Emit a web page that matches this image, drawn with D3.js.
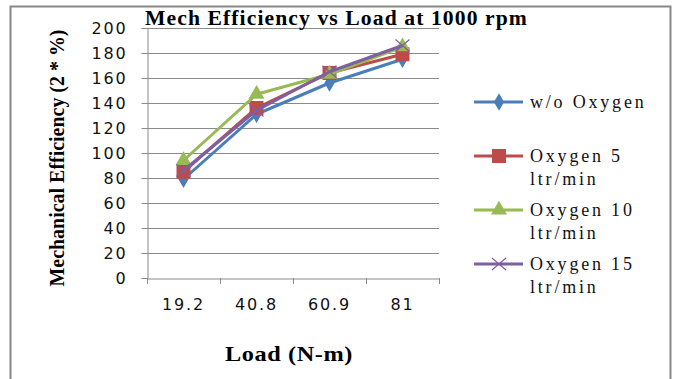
<!DOCTYPE html>
<html>
<head>
<meta charset="utf-8">
<script src="https://cdn.jsdelivr.net/npm/d3@7"></script>
<style>
  body { margin: 0; background: #fff; }
  svg { display: block; }
</style>
</head>
<body>
<svg id="chart" width="673" height="379"></svg>
<script>
// chart data
const loads = ['19.2', '40.8', '60.9', '81'];
const yTicks = [0, 20, 40, 60, 80, 100, 120, 140, 160, 180, 200];
const woOxygen = [79, 131, 156, 175];
const oxygen5 = [85, 136, 164, 179];
const oxygen10 = [94, 147, 163, 185];
const oxygen15 = [86, 134, 165, 186];
const seriesNames = ['w/o Oxygen', 'Oxygen 5 ltr/min', 'Oxygen 10 ltr/min', 'Oxygen 15 ltr/min'];

const series = [
  { name: seriesNames[0], values: woOxygen, color: '#4a7ebb', marker: 'diamond' },
  { name: seriesNames[1], values: oxygen5, color: '#be4b48', marker: 'square' },
  { name: seriesNames[2], values: oxygen10, color: '#98b954', marker: 'triangle' },
  { name: seriesNames[3], values: oxygen15, color: '#7d60a0', marker: 'cross' }
];

const svg = d3.select('#chart');
const plot = { left: 147, right: 439, top: 28, bottom: 278 };
const serif = 'Liberation Serif, Times New Roman, serif';
const sans = 'DejaVu Sans, Verdana, sans-serif';

// outer frame
svg.append('rect')
  .attr('x', 10.5).attr('y', 6.5)
  .attr('width', 660).attr('height', 380)
  .attr('fill', 'none').attr('stroke', '#888').attr('stroke-width', 2);

const x = d3.scaleBand().domain(loads).range([plot.left, plot.right]);
const y = d3.scaleLinear().domain([0, 200]).range([plot.bottom, plot.top]);

// gridlines
svg.append('g').selectAll('line')
  .data(yTicks.filter(d => d > 0))
  .enter().append('line')
  .attr('x1', plot.left).attr('x2', plot.right)
  .attr('y1', d => Math.round(y(d)) + 0.5).attr('y2', d => Math.round(y(d)) + 0.5)
  .attr('stroke', '#8a8a8a').attr('stroke-width', 1);

// y axis
const yAxis = svg.append('g')
  .attr('transform', `translate(${plot.left + 0.5},0)`)
  .call(d3.axisLeft(y).tickValues(yTicks).tickSize(6).tickPadding(14));
yAxis.select('.domain').attr('stroke', '#8a8a8a');
yAxis.selectAll('.tick line').attr('stroke', '#8a8a8a');
yAxis.selectAll('.tick text')
  .attr('font-family', sans)
  .attr('font-size', 16).attr('letter-spacing', 1.8).attr('fill', '#111');

// x axis
const xAxis = svg.append('g')
  .attr('transform', `translate(0,${plot.bottom + 0.5})`)
  .call(d3.axisBottom(x).tickSize(0).tickPadding(20));
xAxis.select('.domain').attr('stroke', '#8a8a8a');
xAxis.selectAll('.tick text')
  .attr('font-family', sans)
  .attr('font-size', 16).attr('letter-spacing', 1.8).attr('fill', '#111');
// category boundary tick marks
const bounds = loads.map(d => x(d)).concat([x(loads[loads.length - 1]) + x.bandwidth()]);
svg.append('g').selectAll('line')
  .data(bounds)
  .enter().append('line')
  .attr('x1', d => Math.round(d) + 0.5).attr('x2', d => Math.round(d) + 0.5)
  .attr('y1', plot.bottom).attr('y2', plot.bottom + 6)
  .attr('stroke', '#8a8a8a');

const cx = d => x(d) + x.bandwidth() / 2;

// lines and markers
const line = d3.line().x((d, i) => cx(loads[i])).y(d => y(d));

function drawMarker(g, type, color, px, py) {
  if (type === 'diamond') {
    g.append('path').attr('d', d3.symbol(d3.symbolDiamond, 90)())
      .attr('transform', `translate(${px},${py})`).attr('fill', color);
  } else if (type === 'square') {
    g.append('rect').attr('x', px - 7).attr('y', py - 7)
      .attr('width', 14).attr('height', 14).attr('fill', color);
  } else if (type === 'triangle') {
    g.append('path').attr('d', d3.symbol(d3.symbolTriangle, 110)())
      .attr('transform', `translate(${px},${py})`).attr('fill', color);
  } else {
    g.append('path').attr('d', `M${px - 7},${py - 6}L${px + 7},${py + 6}M${px - 7},${py + 6}L${px + 7},${py - 6}`)
      .attr('stroke', color).attr('stroke-width', 1.2).attr('fill', 'none');
  }
}

series.forEach(s => {
  const g = svg.append('g');
  g.append('path').datum(s.values)
    .attr('d', line).attr('fill', 'none')
    .attr('stroke', s.color).attr('stroke-width', 3).attr('stroke-linejoin', 'round');
  s.values.forEach((v, i) => drawMarker(g, s.marker, s.color, cx(loads[i]), y(v)));
});

// title
svg.append('text')
  .attr('x', 145).attr('y', 25)
  .attr('font-family', serif)
  .attr('font-weight', 'bold').attr('font-size', 20)
  .attr('letter-spacing', 1)
  .attr('textLength', 383).attr('lengthAdjust', 'spacingAndGlyphs')
  .text('Mech Efficiency vs Load at 1000 rpm');

// axis titles
svg.append('text')
  .attr('transform', 'translate(64,158) rotate(-90)')
  .attr('text-anchor', 'middle')
  .attr('font-family', serif)
  .attr('font-weight', 'bold').attr('font-size', 22)
  .attr('textLength', 257).attr('lengthAdjust', 'spacingAndGlyphs')
  .text('Mechanical Efficiency (2 * %)');

svg.append('text')
  .attr('x', 289).attr('y', 361)
  .attr('text-anchor', 'middle')
  .attr('font-family', serif)
  .attr('font-weight', 'bold').attr('font-size', 21)
  .attr('letter-spacing', 0.5)
  .attr('textLength', 128).attr('lengthAdjust', 'spacingAndGlyphs')
  .text('Load (N-m)');

// legend
const legendY = [102, 156, 210, 264];
series.forEach((s, i) => {
  const g = svg.append('g');
  const ly = legendY[i];
  g.append('line').attr('x1', 474).attr('x2', 523).attr('y1', ly).attr('y2', ly)
    .attr('stroke', s.color).attr('stroke-width', 3);
  drawMarker(g, s.marker, s.color, 499, ly);
  const words = s.name.split(' ');
  const first = i === 0 ? s.name : words.slice(0, 2).join(' ');
  const second = i === 0 ? null : words.slice(2).join(' ');
  const t = g.append('text')
    .attr('font-family', serif)
    .attr('font-size', 18).attr('letter-spacing', 2.8).attr('fill', '#111');
  t.append('tspan').attr('x', 530).attr('y', ly + 6).text(first);
  if (second) t.append('tspan').attr('x', 530).attr('y', ly + 29).text(second);
});
</script>
</body>
</html>
